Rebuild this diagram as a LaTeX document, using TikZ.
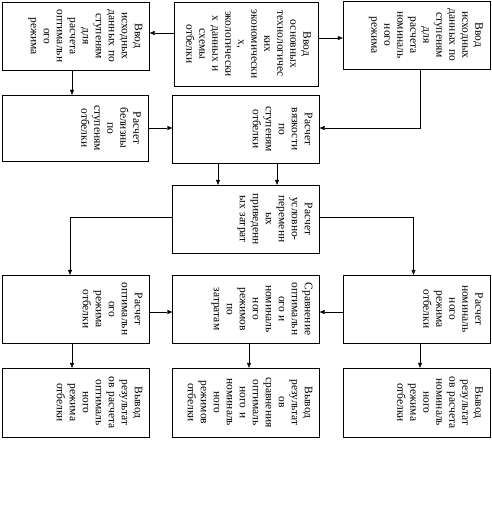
\documentclass[tikz,border=0pt]{standalone}
\usepackage{fontspec}
\setmainfont{Liberation Serif}
\usetikzlibrary{arrows.meta}
\begin{document}
\begin{tikzpicture}[x=1pt, y=-1pt,
    box/.style={draw, thin, minimum width=147pt, minimum height=68pt, inner sep=0pt},
    txt/.style={rotate=-90, anchor=north, inner sep=0pt, align=center, text width=80pt,
                font=\fontsize{11.5}{13}\selectfont},
    arr/.style={thin, -{Triangle[length=5pt,width=4pt]}}]
      \useasboundingbox (0,0) rectangle (491,524);

      % Input boxes
      \node[box] (inOpt) at (76,36) {};
      \node[box, minimum width=144pt, minimum height=84pt] (inTech) at (246,44) {};
      \node[box] (inNom) at (416.5,35) {};
      \node[txt] (tInOpt) at ([xshift=-7pt]inOpt.east) {Ввод\\исходных\\данных по\\ступеням\\для\\расчета\\оптимальн\\ого\\режима};
      \node[txt] (tInTech) at ([xshift=-7pt]inTech.east) {Ввод\\основных\\технологичес\\ких\\экономически\\х,\\экологически\\х данных и\\схемы\\отбелки};
      \node[txt] (tInNom) at ([xshift=-7pt]inNom.east) {Ввод\\исходных\\данных по\\ступеням\\для\\расчета\\номиналь\\ного\\режима};

      % Stage calculations
      \node[box, minimum width=146pt, minimum height=66pt] (white) at (75,128) {};
      \node[box] (visc) at (246,129) {};
      \node[box] (cost) at (246,219) {};
      \node[txt] (tWhite) at ([xshift=-7pt]white.east) {Расчет\\белизны\\по\\ступеням\\отбелки};
      \node[txt] (tVisc) at ([xshift=-7pt]visc.east) {Расчет\\вязкости\\по\\ступеням\\отбелки};
      \node[txt] (tCost) at ([xshift=-7pt]cost.east) {Расчет\\условно-\\переменн\\ых\\приведенн\\ых затрат};

      % Regimes
      \node[box] (calcOpt) at (76,309) {};
      \node[box] (cmp) at (246,309) {};
      \node[box] (calcNom) at (416.5,309) {};
      \node[txt] (tCalcOpt) at ([xshift=-7pt]calcOpt.east) {Расчет\\оптимальн\\ого\\режима\\отбелки};
      \node[txt] (tCmp) at ([xshift=-7pt]cmp.east) {Сравнение\\оптимальн\\ого и\\номиналь\\ного\\режимов\\по\\затратам};
      \node[txt] (tCalcNom) at ([xshift=-7pt]calcNom.east) {Расчет\\номиналь\\ного\\режима\\отбелки};

      % Output boxes
      \node[box, minimum height=69pt] (outOpt) at (76,402.5) {};
      \node[box, minimum height=69pt] (outCmp) at (246,402.5) {};
      \node[box, minimum height=69pt] (outNom) at (416.5,402.5) {};
      \node[txt] (tOutOpt) at ([xshift=-7pt]outOpt.east) {Вывод\\результат\\ов расчета\\оптималь\\ного\\режима\\отбелки};
      \node[txt] (tOutCmp) at ([xshift=-7pt]outCmp.east) {Вывод\\результат\\ов\\сравнения\\оптималь\\ного и\\номиналь\\ного\\режимов\\отбелки};
      \node[txt] (tOutNom) at ([xshift=-7pt]outNom.east) {Вывод\\результат\\ов расчета\\номиналь\\ного\\режима\\отбелки};

      % Connectors
      \draw[arr] ([yshift=11pt]inTech.west) -- ([yshift=3pt]inOpt.east);
      \draw[arr] ([yshift=6pt]inTech.east) -- ([yshift=-3pt]inNom.west);
      \draw[arr] ([xshift=-4pt]inOpt.south) -- ([xshift=-3pt]white.north);
      \draw[arr] (white.east) -- (white.east -| visc.west);
      \draw[arr] ([xshift=3.5pt]inNom.south) |- ([yshift=1pt]visc.east);
      \draw[arr] ([xshift=-28pt]visc.south) -- ([xshift=-28pt]cost.north);
      \draw[arr] ([xshift=31pt]visc.south) -- ([xshift=31pt]cost.north);
      \draw[arr] ([yshift=2pt]cost.west) -| ([xshift=-6pt]calcOpt.north);
      \draw[arr] ([yshift=2pt]cost.east) -| ([xshift=-3pt]calcNom.north);
      \draw[arr] ([yshift=-3pt]calcOpt.east) -- ([yshift=-3pt]cmp.west);
      \draw[arr] ([yshift=-3pt]calcNom.west) -- ([yshift=-3pt]cmp.east);
      \draw[arr] ([xshift=-4pt]calcOpt.south) -- ([xshift=-4pt]outOpt.north);
      \draw[arr] ([xshift=3pt]cmp.south) -- ([xshift=3pt]outCmp.north);
      \draw[arr] ([xshift=3.5pt]calcNom.south) -- ([xshift=3.5pt]outNom.north);
\end{tikzpicture}
\end{document}
